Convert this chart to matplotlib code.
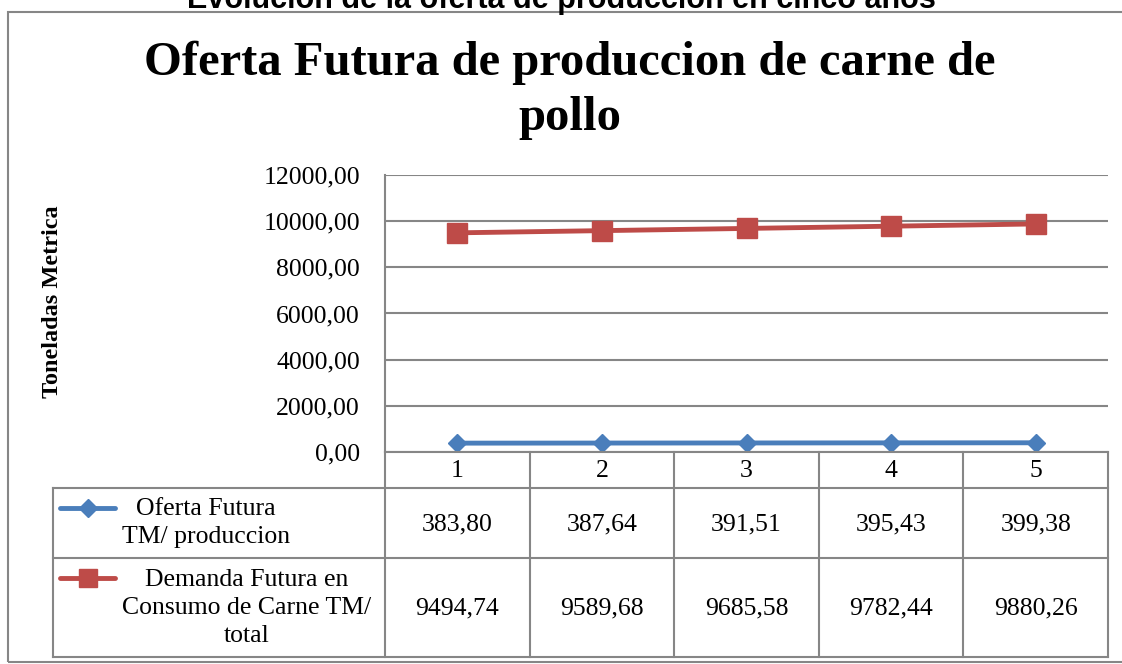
import matplotlib.pyplot as plt
from matplotlib.patches import Rectangle
from matplotlib.lines import Line2D

categorias = ['1', '2', '3', '4', '5']
oferta = [383.80, 387.64, 391.51, 395.43, 399.38]
demanda = [9494.74, 9589.68, 9685.58, 9782.44, 9880.26]
serie_nombres = ['Oferta Futura\nTM/ produccion', 'Demanda Futura en\nConsumo de Carne TM/\ntotal']
yticks = [0, 2000, 4000, 6000, 8000, 10000, 12000]

W, H = 1122, 664
serif = 'Liberation Serif'
azul = '#4A7EBB'
rojo = '#BE4B48'
gris = '#868686'
fs = 18.5

fig = plt.figure(figsize=(W / 100, H / 100), dpi=100)


def fx(px):
    return px / W


def fy(py):
    return 1 - py / H


# marco del grafico
fig.add_artist(Rectangle((fx(8), fy(662)), fx(1130) - fx(8), fy(12) - fy(662),
                         transform=fig.transFigure, fill=False, ec=gris, lw=1.5))

fig.text(0.5, fy(8), 'Evolución de la oferta de producción en cinco años',
         ha='center', va='baseline', fontsize=22, fontweight='bold',
         family='Liberation Sans')

fig.text(fx(570), fy(63), 'Oferta Futura de produccion de carne de',
         ha='center', va='center', fontsize=35, fontweight='bold', family=serif)
fig.text(fx(570), fy(118), 'pollo',
         ha='center', va='center', fontsize=35, fontweight='bold', family=serif)

L, R, T, B = 385, 1108, 175, 452
ax = fig.add_axes([fx(L), fy(B), fx(R) - fx(L), fy(T) - fy(B)])
x = [i + 0.5 for i in range(len(categorias))]
ax.plot(x, oferta, color=azul, lw=3.5, marker='D', ms=9.5, mec=azul, zorder=3)
ax.plot(x, demanda, color=rojo, lw=3.5, marker='s', ms=14, mec=rojo, zorder=3)
ax.set_xlim(0, 5)
ax.set_ylim(0, 12000)
ax.set_yticks(yticks)
ax.set_yticklabels([f'{v:.2f}'.replace('.', ',') for v in yticks],
                   family=serif, fontsize=fs)
ax.set_xticks([])
ax.tick_params(axis='y', length=0, pad=18)
ax.grid(axis='y', color=gris, lw=1.5)
ax.set_axisbelow(True)
for s in ['top', 'right', 'bottom']:
    ax.spines[s].set_visible(False)
ax.spines['left'].set_color(gris)
ax.spines['left'].set_linewidth(1.5)
ax.set_ylabel('Toneladas Metrica', family=serif, fontsize=17.5, fontweight='bold',
              labelpad=0)
ax.yaxis.set_label_coords((63 - L) / (R - L), (B - 302) / (B - T))

# tabla de datos
tb = fig.add_axes([fx(L), fy(657), fx(R) - fx(L), fy(B) - fy(657)])
tb.set_xlim(0, 5)
tb.set_ylim(657, 452)
tb.axis('off')


def px2x(px):
    return (px - L) / (R - L) * 5


xl = px2x(53)
filas = [452, 488, 558, 657]
for i, yy in enumerate(filas):
    x0 = 0 if i == 0 else xl
    tb.add_line(Line2D([x0, 5], [yy, yy], color=gris, lw=1.5, clip_on=False))
for c in range(6):
    tb.add_line(Line2D([c, c], [452, 657], color=gris, lw=1.5, clip_on=False))
tb.add_line(Line2D([xl, xl], [488, 657], color=gris, lw=1.5, clip_on=False))

for c, lab in enumerate(categorias):
    tb.text(c + 0.5, 471, lab, ha='center', va='center', family=serif, fontsize=fs)
for c, (o, d) in enumerate(zip(oferta, demanda)):
    tb.text(c + 0.5, 524, f'{o:.2f}'.replace('.', ','), ha='center', va='center',
            family=serif, fontsize=fs)
    tb.text(c + 0.5, 608, f'{d:.2f}'.replace('.', ','), ha='center', va='center',
            family=serif, fontsize=fs)

tb.add_line(Line2D([px2x(60), px2x(115)], [508, 508], color=azul, lw=3.5,
                   solid_capstyle='round', clip_on=False))
tb.plot([px2x(88)], [508], marker='D', ms=9.5, color=azul, clip_on=False)
tb.add_line(Line2D([px2x(60), px2x(115)], [578, 578], color=rojo, lw=3.5,
                   solid_capstyle='round', clip_on=False))
tb.plot([px2x(88)], [578], marker='s', ms=13, color=rojo, clip_on=False)
tb.text(px2x(206), 523, serie_nombres[0], ha='center', va='center', family=serif,
        fontsize=fs, linespacing=1.36)
tb.text(px2x(247), 608, serie_nombres[1], ha='center', va='center', family=serif,
        fontsize=fs, linespacing=1.36)

fig.savefig('out.png', dpi=100)
